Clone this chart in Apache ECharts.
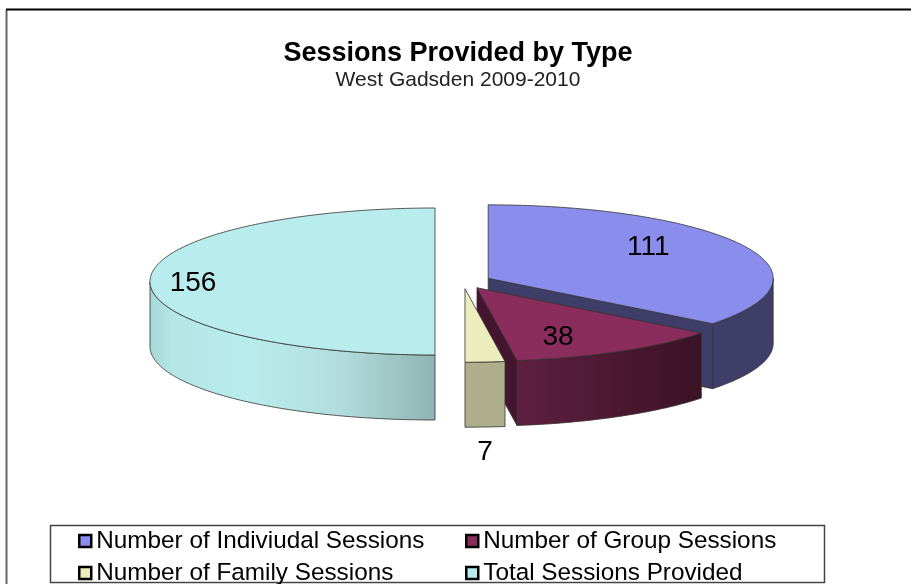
<!DOCTYPE html>
<html>
<head>
<meta charset="utf-8">
<title>Sessions Provided by Type</title>
<script src="https://cdn.jsdelivr.net/npm/echarts@6/dist/echarts.min.js"></script>
<style>
  html, body { margin: 0; padding: 0; background: #fff; }
  #main { width: 911px; height: 584px; }
</style>
</head>
<body>
<div id="main"></div>
<script>
const categories = [
  "Number of Indiviudal Sessions",
  "Number of Group Sessions",
  "Number of Family Sessions",
  "Total Sessions Provided",
];
const values = [111, 38, 7, 156];

// colours per slice: top face, cut wall, rim gradient stops
const topColors = ["#8b8ded", "#8a2d5d", "#ecedbc", "#b9ecec"];
const wallColors = ["#3e3e68", "#451530", "#aeae8c", "#8fb3b2"];
const rimStops = [
  [[0, "#3e3e68"], [1, "#3e3e68"]],
  [[0, "#5f1f40"], [1, "#3b1225"]],
  [[0, "#aeae8c"], [1, "#aeae8c"]],
  [[0, "#a6d6d6"], [0.08, "#b4e6e6"], [0.35, "#b9ecec"], [0.65, "#b4dede"], [1, "#8fb3b2"]],
];
// where the number sits, in px from the slice's own centre
const labelOffsets = [[160, -31], [81, 50], [20, 164], [-242, 2]];

// the pie, flattened
const cx = 463, cy = 281.5, rx = 285, ry = 73.5, depth = 65, explode = 28;
const total = values.reduce((a, b) => a + b, 0);

function sliceAngles(i) {
  let sum = 0;
  for (let k = 0; k < i; k++) sum += values[k];
  return [sum / total * 360, (sum + values[i]) / total * 360];
}

function arc(c, a0, a1, dy) {
  const pts = [];
  const n = Math.max(2, Math.ceil(a1 - a0));
  for (let k = 0; k <= n; k++) {
    const a = (a0 + (a1 - a0) * k / n) * Math.PI / 180;
    pts.push([c[0] + rx * Math.sin(a), c[1] - ry * Math.cos(a) + dy]);
  }
  return pts;
}

function renderSlice(params, api) {
  const i = params.seriesIndex;
  const [a0, a1] = sliceAngles(i);
  const mid = (a0 + a1) / 2 * Math.PI / 180;
  // pulled out along the middle of the slice
  const c = [cx + explode * Math.sin(mid), cy - explode * (ry / rx) * Math.cos(mid)];
  const line = { stroke: "#333", lineWidth: 0.8 };
  const children = [];

  // cut wall facing the viewer
  if (a1 > 0 && a1 < 180) {
    const e = arc(c, a1, a1, 0)[0];
    children.push({
      type: "polygon",
      shape: { points: [c, e, [e[0], e[1] + depth], [c[0], c[1] + depth]] },
      style: Object.assign({ fill: wallColors[i] }, line),
    });
  }

  // outer rim, only the front half shows
  const r0 = Math.max(a0, 90), r1 = Math.min(a1, 270);
  if (r1 > r0) {
    const upper = arc(c, r0, r1, 0);
    const lower = arc(c, r0, r1, depth).reverse();
    const colorStops = rimStops[i].map(s => ({ offset: s[0], color: s[1] }));
    children.push({
      type: "polygon",
      shape: { points: upper.concat(lower) },
      style: Object.assign({ fill: new echarts.graphic.LinearGradient(0, 0, 1, 0, colorStops) }, line),
    });
  }

  // top face
  children.push({
    type: "polygon",
    shape: { points: [c].concat(arc(c, a0, a1, 0)) },
    style: Object.assign({ fill: topColors[i] }, line),
  });

  children.push({
    type: "text",
    x: c[0] + labelOffsets[i][0],
    y: c[1] + labelOffsets[i][1],
    style: {
      text: String(api.value(0)),
      fill: "#000",
      font: "28px 'Liberation Sans', Arial, sans-serif",
      align: "center",
      verticalAlign: "middle",
    },
  });
  return { type: "group", children: children };
}

const legendText = {
  color: "#000",
  fontFamily: "'Liberation Sans', Arial, sans-serif",
  fontSize: 24.3,
};
const legendBase = {
  orient: "vertical",
  top: 529,
  height: 70,
  icon: "rect",
  itemWidth: 12,
  itemHeight: 12,
  itemGap: 8,
  padding: 0,
  selectedMode: false,
  textStyle: legendText,
  itemStyle: { borderColor: "#000", borderWidth: 2.5 },
};

const chart = echarts.init(document.getElementById("main"), null, { renderer: "canvas" });
chart.setOption({
  animation: false,
  backgroundColor: "#fff",
  title: {
    text: "Sessions Provided by Type",
    subtext: "West Gadsden 2009-2010",
    left: 458,
    top: 40,
    textAlign: "center",
    itemGap: 3,
    padding: 0,
    textStyle: { color: "#000", fontFamily: "'Liberation Sans', Arial, sans-serif", fontSize: 27, fontWeight: "bold" },
    subtextStyle: { color: "#222", fontFamily: "'Liberation Sans', Arial, sans-serif", fontSize: 21 },
  },
  legend: [
    Object.assign({}, legendBase, { left: 78, data: [categories[0], categories[2]] }),
    Object.assign({}, legendBase, { left: 465, data: [categories[1], categories[3]] }),
  ],
  graphic: [
    // frame only runs along the top and the left
    { type: "line", z: -10, shape: { x1: 6.5, y1: 10, x2: 6.5, y2: 584 },
      style: { stroke: "#666", lineWidth: 2 } },
    { type: "line", z: -10, shape: { x1: 6, y1: 9.5, x2: 911, y2: 9.5 },
      style: { stroke: "#000", lineWidth: 2 } },
    { type: "rect", z: -9, shape: { x: 50.5, y: 525.5, width: 774, height: 57 },
      style: { fill: "#fff", stroke: "#444", lineWidth: 1.5 } },
  ],
  series: categories.map((name, i) => ({
    type: "custom",
    name: name,
    coordinateSystem: "none",
    silent: true,
    itemStyle: { color: topColors[i] },
    renderItem: renderSlice,
    data: [[values[i]]],
  })),
});
</script>
</body>
</html>
